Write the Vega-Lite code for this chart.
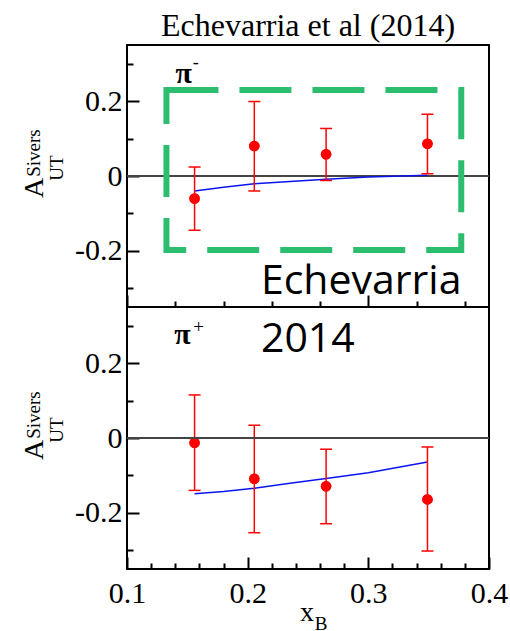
{
  "$schema": "https://vega.github.io/schema/vega-lite/v6.json",
  "background": "white",
  "padding": {"left": 20, "top": 9, "right": 0, "bottom": 0},
  "bounds": "flush",
  "spacing": 0,
  "datasets": {
    "pim": [
      {"x": 0.156, "y": -0.060, "lo": -0.145, "hi": 0.024},
      {"x": 0.2055, "y": 0.080, "lo": -0.040, "hi": 0.199},
      {"x": 0.265, "y": 0.058, "lo": -0.012, "hi": 0.127},
      {"x": 0.349, "y": 0.086, "lo": 0.006, "hi": 0.165}
    ],
    "pip": [
      {"x": 0.156, "y": -0.013, "lo": -0.140, "hi": 0.115},
      {"x": 0.2055, "y": -0.109, "lo": -0.253, "hi": 0.034},
      {"x": 0.265, "y": -0.129, "lo": -0.229, "hi": -0.030},
      {"x": 0.349, "y": -0.164, "lo": -0.302, "hi": -0.024}
    ],
    "pim_fit": [
      {"x": 0.156, "y": -0.040},
      {"x": 0.180, "y": -0.030},
      {"x": 0.2055, "y": -0.021},
      {"x": 0.235, "y": -0.015},
      {"x": 0.265, "y": -0.009},
      {"x": 0.300, "y": -0.003},
      {"x": 0.349, "y": 0.002}
    ],
    "pip_fit": [
      {"x": 0.156, "y": -0.149},
      {"x": 0.180, "y": -0.143},
      {"x": 0.2055, "y": -0.134},
      {"x": 0.235, "y": -0.121},
      {"x": 0.265, "y": -0.108},
      {"x": 0.300, "y": -0.093},
      {"x": 0.349, "y": -0.064}
    ]
  },
  "config": {
    "view": {"stroke": "black", "strokeWidth": 2},
    "axis": {
      "domain": false,
      "grid": false,
      "tickColor": "black",
      "tickWidth": 2,
      "labelFont": "Liberation Serif",
      "labelFontSize": 30,
      "labelColor": "black",
      "labelFlush": false,
      "labelOverlap": false,
      "labelBound": false
    },
    "text": {"color": "black"}
  },
  "vconcat": [
    {
      "width": 362,
      "height": 262,
      "title": {
        "text": "Echevarria et al (2014)",
        "font": "Liberation Serif",
        "fontSize": 32,
        "fontWeight": "normal",
        "color": "black",
        "frame": "group",
        "anchor": "middle",
        "baseline": "alphabetic",
        "offset": -23
      },
      "layer": [
        {
          "data": {"name": "pim"},
          "mark": {"type": "circle", "color": "red", "size": 110, "opacity": 1},
          "encoding": {
            "x": {
              "field": "x", "type": "quantitative", "title": null,
              "scale": {"domain": [0.1, 0.4], "nice": false, "zero": false},
              "axis": {
                "values": [0.1, 0.12, 0.14, 0.16, 0.18, 0.2, 0.22, 0.24, 0.26, 0.28, 0.3, 0.32, 0.34, 0.36, 0.38, 0.4],
                "labels": false,
                "tickSize": {"condition": {"test": "abs(datum.value*10 - round(datum.value*10)) < 0.001", "value": -12}, "value": -6}
              }
            },
            "y": {
              "field": "y", "type": "quantitative", "title": null,
              "scale": {"domain": [-0.35, 0.35], "nice": false, "zero": false},
              "axis": {
                "values": [-0.3, -0.25, -0.2, -0.15, -0.1, -0.05, 0, 0.05, 0.1, 0.15, 0.2, 0.25, 0.3],
                "labelPadding": 17,
                "labelOverlap": false,
                "labelExpr": "abs(datum.value) < 0.001 ? '0' : abs(datum.value - 0.2) < 0.001 ? '0.2' : abs(datum.value + 0.2) < 0.001 ? '-0.2' : ''",
                "tickSize": {"condition": {"test": "abs(datum.value*5 - round(datum.value*5)) < 0.001", "value": -12}, "value": -6}
              }
            }
          }
        },
        {
          "data": {"values": [{}]},
          "mark": {"type": "rule", "color": "#444444", "strokeWidth": 2},
          "encoding": {"y": {"datum": 0, "type": "quantitative"}}
        },
        {
          "data": {"values": [{}]},
          "mark": {"type": "rect", "filled": false, "stroke": "#2dbd6e", "strokeWidth": 6, "strokeDash": [52, 21]},
          "encoding": {
            "x": {"datum": 0.1327, "type": "quantitative"},
            "x2": {"datum": 0.377},
            "y": {"datum": 0.230, "type": "quantitative"},
            "y2": {"datum": -0.198}
          }
        },
        {
          "data": {"name": "pim_fit"},
          "mark": {"type": "line", "color": "#0a14f0", "strokeWidth": 1.5},
          "encoding": {
            "x": {"field": "x", "type": "quantitative", "title": null},
            "y": {"field": "y", "type": "quantitative", "title": null}
          }
        },
        {
          "data": {"name": "pim"},
          "mark": {"type": "rule", "color": "red", "strokeWidth": 1.5},
          "encoding": {
            "x": {"field": "x", "type": "quantitative", "title": null},
            "y": {"field": "lo", "type": "quantitative", "title": null},
            "y2": {"field": "hi"}
          }
        },
        {
          "data": {"name": "pim"},
          "mark": {"type": "tick", "color": "red", "orient": "horizontal", "size": 12, "thickness": 1.5, "opacity": 1},
          "encoding": {
            "x": {"field": "x", "type": "quantitative", "title": null},
            "y": {"field": "lo", "type": "quantitative", "title": null}
          }
        },
        {
          "data": {"name": "pim"},
          "mark": {"type": "tick", "color": "red", "orient": "horizontal", "size": 12, "thickness": 1.5, "opacity": 1},
          "encoding": {
            "x": {"field": "x", "type": "quantitative", "title": null},
            "y": {"field": "hi", "type": "quantitative", "title": null}
          }
        },
        {
          "data": {"name": "pim"},
          "mark": {"type": "circle", "color": "red", "size": 110, "opacity": 1},
          "encoding": {
            "x": {"field": "x", "type": "quantitative", "title": null},
            "y": {"field": "y", "type": "quantitative", "title": null}
          }
        },
        {
          "data": {"values": [{"label": "π"}]},
          "mark": {"type": "text", "font": "Liberation Serif", "fontSize": 30, "fontWeight": "bold", "align": "center", "baseline": "alphabetic"},
          "encoding": {"text": {"field": "label"}, "x": {"datum": 0.147, "type": "quantitative"}, "y": {"datum": 0.249, "type": "quantitative"}}
        },
        {
          "data": {"values": [{"label": "-"}]},
          "mark": {"type": "text", "font": "Liberation Serif", "fontSize": 18, "align": "center", "baseline": "middle", "dx": 12, "dy": -20},
          "encoding": {"text": {"field": "label"}, "x": {"datum": 0.147, "type": "quantitative"}, "y": {"datum": 0.249, "type": "quantitative"}}
        },
        {
          "data": {"values": [{"label": "Echevarria"}]},
          "mark": {"type": "text", "font": "Open Sans", "fontSize": 41, "align": "left", "baseline": "alphabetic"},
          "encoding": {"text": {"field": "label"}, "x": {"datum": 0.211, "type": "quantitative"}, "y": {"datum": -0.316, "type": "quantitative"}}
        },
        {
          "data": {"values": [{"label": "A"}]},
          "mark": {"type": "text", "font": "Liberation Serif", "fontSize": 28, "align": "center", "baseline": "middle", "dx": -12, "dy": -92},
          "encoding": {"text": {"field": "label"}, "angle": {"value": 270}, "x": {"datum": 0.1, "type": "quantitative"}, "y": {"datum": 0, "type": "quantitative"}}
        },
        {
          "data": {"values": [{"label": "Sivers"}]},
          "mark": {"type": "text", "font": "Liberation Serif", "fontSize": 19, "align": "center", "baseline": "middle", "dx": 23, "dy": -93},
          "encoding": {"text": {"field": "label"}, "angle": {"value": 270}, "x": {"datum": 0.1, "type": "quantitative"}, "y": {"datum": 0, "type": "quantitative"}}
        },
        {
          "data": {"values": [{"label": "UT"}]},
          "mark": {"type": "text", "font": "Liberation Serif", "fontSize": 19, "align": "center", "baseline": "middle", "dx": 8, "dy": -70},
          "encoding": {"text": {"field": "label"}, "angle": {"value": 270}, "x": {"datum": 0.1, "type": "quantitative"}, "y": {"datum": 0, "type": "quantitative"}}
        }
      ]
    },
    {
      "width": 362,
      "height": 262,
      "resolve": {"scale": {"x": "independent"}, "axis": {"x": "independent"}},
      "layer": [
        {
          "layer": [
            {
              "data": {"name": "pip"},
              "mark": {"type": "circle", "color": "red", "size": 110, "opacity": 1},
              "encoding": {
                "x": {
                  "field": "x", "type": "quantitative", "title": null,
                  "scale": {"domain": [0.1, 0.4], "nice": false, "zero": false},
                  "axis": {
                    "orient": "bottom",
                    "values": [0.1, 0.2, 0.3, 0.4],
                    "format": ".1f",
                    "labelPadding": 21,
                    "labelOverlap": false,
                    "tickSize": -12
                  }
                },
                "y": {
                  "field": "y", "type": "quantitative", "title": null,
                  "scale": {"domain": [-0.35, 0.35], "nice": false, "zero": false},
                  "axis": {
                    "values": [-0.3, -0.25, -0.2, -0.15, -0.1, -0.05, 0, 0.05, 0.1, 0.15, 0.2, 0.25, 0.3],
                    "labelPadding": 17,
                    "labelOverlap": false,
                    "labelExpr": "abs(datum.value) < 0.001 ? '0' : abs(datum.value - 0.2) < 0.001 ? '0.2' : abs(datum.value + 0.2) < 0.001 ? '-0.2' : ''",
                    "tickSize": {"condition": {"test": "abs(datum.value*5 - round(datum.value*5)) < 0.001", "value": -12}, "value": -6}
                  }
                }
              }
            },
            {
              "data": {"name": "pip_fit"},
              "mark": {"type": "line", "color": "#0a14f0", "strokeWidth": 1.5},
              "encoding": {
                "x": {"field": "x", "type": "quantitative", "title": null},
                "y": {"field": "y", "type": "quantitative", "title": null}
              }
            },
            {
              "data": {"name": "pip"},
              "mark": {"type": "rule", "color": "red", "strokeWidth": 1.5},
              "encoding": {
                "x": {"field": "x", "type": "quantitative", "title": null},
                "y": {"field": "lo", "type": "quantitative", "title": null},
                "y2": {"field": "hi"}
              }
            },
            {
              "data": {"name": "pip"},
              "mark": {"type": "tick", "color": "red", "orient": "horizontal", "size": 12, "thickness": 1.5, "opacity": 1},
              "encoding": {
                "x": {"field": "x", "type": "quantitative", "title": null},
                "y": {"field": "lo", "type": "quantitative", "title": null}
              }
            },
            {
              "data": {"name": "pip"},
              "mark": {"type": "tick", "color": "red", "orient": "horizontal", "size": 12, "thickness": 1.5, "opacity": 1},
              "encoding": {
                "x": {"field": "x", "type": "quantitative", "title": null},
                "y": {"field": "hi", "type": "quantitative", "title": null}
              }
            },
            {
              "data": {"name": "pip"},
              "mark": {"type": "circle", "color": "red", "size": 110, "opacity": 1},
              "encoding": {
                "x": {"field": "x", "type": "quantitative", "title": null},
                "y": {"field": "y", "type": "quantitative", "title": null}
              }
            },
            {
              "data": {"values": [{"label": "π"}]},
              "mark": {"type": "text", "font": "Liberation Serif", "fontSize": 30, "fontWeight": "bold", "align": "center", "baseline": "alphabetic"},
              "encoding": {"text": {"field": "label"}, "x": {"datum": 0.146, "type": "quantitative"}, "y": {"datum": 0.2517, "type": "quantitative"}}
            },
            {
              "data": {"values": [{"label": "+"}]},
              "mark": {"type": "text", "font": "Liberation Serif", "fontSize": 19, "align": "center", "baseline": "middle", "dx": 16, "dy": -17},
              "encoding": {"text": {"field": "label"}, "x": {"datum": 0.146, "type": "quantitative"}, "y": {"datum": 0.2517, "type": "quantitative"}}
            },
            {
              "data": {"values": [{"label": "2014"}]},
              "mark": {"type": "text", "font": "Open Sans", "fontSize": 41, "align": "left", "baseline": "alphabetic"},
              "encoding": {"text": {"field": "label"}, "x": {"datum": 0.211, "type": "quantitative"}, "y": {"datum": 0.230, "type": "quantitative"}}
            },
            {
              "data": {"values": [{"label": "A"}]},
              "mark": {"type": "text", "font": "Liberation Serif", "fontSize": 28, "align": "center", "baseline": "middle", "dx": -12, "dy": -92},
              "encoding": {"text": {"field": "label"}, "angle": {"value": 270}, "x": {"datum": 0.1, "type": "quantitative"}, "y": {"datum": 0, "type": "quantitative"}}
            },
            {
              "data": {"values": [{"label": "Sivers"}]},
              "mark": {"type": "text", "font": "Liberation Serif", "fontSize": 19, "align": "center", "baseline": "middle", "dx": 23, "dy": -93},
              "encoding": {"text": {"field": "label"}, "angle": {"value": 270}, "x": {"datum": 0.1, "type": "quantitative"}, "y": {"datum": 0, "type": "quantitative"}}
            },
            {
              "data": {"values": [{"label": "UT"}]},
              "mark": {"type": "text", "font": "Liberation Serif", "fontSize": 19, "align": "center", "baseline": "middle", "dx": 8, "dy": -70},
              "encoding": {"text": {"field": "label"}, "angle": {"value": 270}, "x": {"datum": 0.1, "type": "quantitative"}, "y": {"datum": 0, "type": "quantitative"}}
            },
            {
              "data": {"values": [{"label": "x"}]},
              "mark": {"type": "text", "font": "Liberation Serif", "fontSize": 28, "align": "center", "baseline": "alphabetic", "dx": -1, "dy": 52},
              "encoding": {"text": {"field": "label"}, "x": {"datum": 0.25, "type": "quantitative"}, "y": {"datum": -0.35, "type": "quantitative"}}
            },
            {
              "data": {"values": [{"label": "B"}]},
              "mark": {"type": "text", "font": "Liberation Serif", "fontSize": 19, "align": "center", "baseline": "alphabetic", "dx": 13, "dy": 61},
              "encoding": {"text": {"field": "label"}, "x": {"datum": 0.25, "type": "quantitative"}, "y": {"datum": -0.35, "type": "quantitative"}}
            }
          ]
        },
        {
          "data": {"values": [{}]},
          "mark": {"type": "rule", "color": "#444444", "strokeWidth": 2},
          "encoding": {
            "x": {
              "datum": 0.1, "type": "quantitative", "title": null,
              "scale": {"domain": [0.1, 0.4], "nice": false, "zero": false},
              "axis": {
                "orient": "bottom",
                "values": [0.12, 0.14, 0.16, 0.18, 0.22, 0.24, 0.26, 0.28, 0.32, 0.34, 0.36, 0.38],
                "labels": false,
                "tickSize": -6
              }
            },
            "x2": {"datum": 0.4},
            "y": {"datum": 0, "type": "quantitative"}
          }
        }
      ]
    }
  ]
}
